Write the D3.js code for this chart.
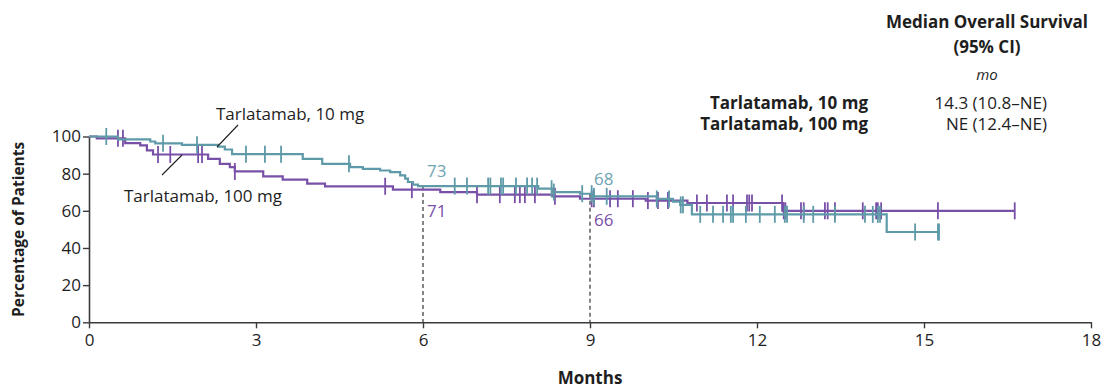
<!DOCTYPE html>
<html>
<head>
<meta charset="utf-8">
<script src="https://cdn.jsdelivr.net/npm/d3@7"></script>
<style>
  body { margin: 0; background: #fff; }
  svg text { font-family: "Open Sans", "Noto Sans", sans-serif; }
</style>
</head>
<body>
<div id="chart"></div>
<script>
// data (months, percent)
const xTicks = [0, 3, 6, 9, 12, 15, 18];
const yTicks = [0, 20, 40, 60, 80, 100];

// Tarlatamab 10 mg
const dose10Times = [0, 0.52, 1.10, 1.19, 1.67, 2.32, 2.44, 2.57, 3.84, 4.19, 4.69, 4.92, 5.23, 5.41, 5.59, 5.68, 5.73, 5.82, 5.91, 8.07, 8.33, 8.82, 9.05, 10.20, 10.49, 10.62, 10.83, 14.33, 15.27];
const dose10Surv  = [100, 98.5, 97.3, 96.3, 95.5, 94.5, 93.0, 90.5, 88.0, 85.3, 83.5, 82.6, 81.7, 80.8, 79.1, 77.3, 75.5, 74.1, 73.3, 71.9, 70.1, 69.2, 67.8, 66.4, 65.0, 63.2, 58.1, 48.6, 48.6];
const dose10Censor = [0.31, 1.33, 1.94, 2.82, 3.16, 3.45, 4.67, 6.57, 6.79, 7.17, 7.21, 7.40, 7.44, 7.67, 7.87, 7.96, 8.05, 8.31, 8.35, 8.86, 9.03, 9.07, 9.30, 10.20, 10.42, 10.63, 10.67, 10.98, 11.21, 11.39, 11.53, 11.57, 11.80, 12.05, 12.32, 12.50, 12.54, 12.84, 13.01, 13.40, 13.94, 14.08, 14.17, 14.21, 14.84, 15.25, 15.27];

// Tarlatamab 100 mg
const dose100Times = [0, 0.14, 0.65, 0.92, 1.04, 1.15, 2.14, 2.35, 2.53, 2.62, 3.13, 3.48, 3.92, 4.24, 5.46, 6.31, 6.97, 8.33, 8.82, 10.0, 10.75, 12.47, 16.63];
const dose100Surv  = [100, 99.0, 96.4, 95.2, 92.5, 90.3, 88.0, 85.3, 83.5, 81.2, 78.5, 76.8, 74.6, 73.2, 71.4, 70.1, 68.7, 67.8, 66.5, 65.5, 64.2, 60.0, 60.0];
const dose100Censor = [0.52, 0.61, 1.24, 1.46, 1.96, 2.03, 2.62, 5.32, 5.80, 6.97, 7.38, 7.65, 7.74, 7.83, 8.01, 8.37, 9.03, 9.07, 9.36, 9.50, 9.77, 10.04, 10.22, 10.40, 10.92, 11.10, 11.46, 11.57, 11.82, 11.86, 11.91, 12.45, 12.48, 12.51, 12.79, 12.84, 13.22, 13.27, 13.40, 13.90, 14.14, 14.17, 14.23, 15.25, 16.63];

// landmark labels
const landmarkMonths = [6, 9];
const dose10Landmark = ["73", "68"];
const dose100Landmark = ["71", "66"];

const tableRows = ["Tarlatamab, 10 mg", "Tarlatamab, 100 mg"];
const tableValues = ["14.3 (10.8\u2013NE)", "NE (12.4\u2013NE)"];

const teal = "#5e9aa8";
const purple = "#7950a8";
const ink = "#1e1e1e";

const width = 1111, height = 388;

const svg = d3.select("#chart")
    .append("svg")
    .attr("width", width)
    .attr("height", height);

const x = d3.scaleLinear().domain([0, 18]).range([89, 1091]);
const y = d3.scaleLinear().domain([0, 100]).range([322.3, 136.5]);

// axes
const xAxis = svg.append("g")
    .attr("transform", `translate(0, ${y(0)})`)
    .call(d3.axisBottom(x).tickValues(xTicks).tickSize(6).tickPadding(6).tickSizeOuter(0));

const yAxis = svg.append("g")
    .attr("transform", `translate(${x(0)}, 0)`)
    .call(d3.axisLeft(y).tickValues(yTicks).tickSize(6).tickPadding(2).tickSizeOuter(0));

[xAxis, yAxis].forEach(a => {
    a.select(".domain").attr("stroke", "#3a3a3a").attr("stroke-width", 1.6);
    a.selectAll(".tick line").attr("stroke", "#3a3a3a").attr("stroke-width", 1.4);
    a.selectAll(".tick text")
        .attr("fill", ink)
        .style("font-size", "17px")
        .style("font-family", "Open Sans, sans-serif");
});

svg.append("text")
    .attr("x", x(9))
    .attr("y", 384)
    .attr("text-anchor", "middle")
    .attr("font-weight", "bold")
    .attr("fill", ink)
    .style("font-size", "17px")
    .text("Months");

svg.append("text")
    .attr("transform", `translate(24, ${y(50)}) rotate(-90)`)
    .attr("text-anchor", "middle")
    .attr("font-weight", "bold")
    .attr("fill", ink)
    .style("font-size", "15.5px")
    .text("Percentage of Patients");

// step lookup for censor marks
const stepValue = (times, surv, t) => {
    let v = surv[0];
    for (let i = 0; i < times.length; i++) {
        if (times[i] <= t) v = surv[i];
    }
    return v;
};

// dashed landmark lines
landmarkMonths.forEach((m, i) => {
    const top = Math.max(stepValue(dose10Times, dose10Surv, m), stepValue(dose100Times, dose100Surv, m));
    svg.append("line")
        .attr("x1", x(m)).attr("x2", x(m))
        .attr("y1", y(top)).attr("y2", y(0))
        .attr("stroke", "#444")
        .attr("stroke-width", 1.3)
        .attr("stroke-dasharray", "4,3");
});

const stepLine = d3.line()
    .x(d => x(d[0]))
    .y(d => y(d[1]))
    .curve(d3.curveStepAfter);

const series = [
    {times: dose100Times, surv: dose100Surv, censor: dose100Censor, color: purple},
    {times: dose10Times, surv: dose10Surv, censor: dose10Censor, color: teal}
];

series.forEach(s => {
    const pts = s.times.map((t, i) => [t, s.surv[i]]);
    svg.append("path")
        .attr("d", stepLine(pts))
        .attr("fill", "none")
        .attr("stroke", s.color)
        .attr("stroke-width", 2.2);

    svg.append("g").selectAll("line")
        .data(s.censor)
        .enter()
        .append("line")
        .attr("x1", d => x(d)).attr("x2", d => x(d))
        .attr("y1", d => y(stepValue(s.times, s.surv, d)) - 8.5)
        .attr("y2", d => y(stepValue(s.times, s.surv, d)) + 8.5)
        .attr("stroke", s.color)
        .attr("stroke-width", 1.8);
});

// landmark numbers
landmarkMonths.forEach((m, i) => {
    svg.append("text")
        .attr("x", x(m) + 4)
        .attr("y", y(stepValue(dose10Times, dose10Surv, m)) - 9)
        .attr("fill", "#6ea3b3")
        .style("font-size", "17px")
        .text(dose10Landmark[i]);
    svg.append("text")
        .attr("x", x(m) + 4)
        .attr("y", y(stepValue(dose100Times, dose100Surv, m)) + 27)
        .attr("fill", purple)
        .style("font-size", "17px")
        .text(dose100Landmark[i]);
});

// curve labels with leader lines
svg.append("text")
    .attr("x", 216).attr("y", 120)
    .attr("fill", ink)
    .style("font-size", "17px")
    .text(tableRows[0]);
svg.append("line")
    .attr("x1", 238).attr("y1", 125)
    .attr("x2", 217).attr("y2", 147)
    .attr("stroke", ink).attr("stroke-width", 1.1);

svg.append("text")
    .attr("x", 124).attr("y", 202)
    .attr("fill", ink)
    .style("font-size", "17px")
    .text(tableRows[1]);
svg.append("line")
    .attr("x1", 162).attr("y1", 175)
    .attr("x2", 182).attr("y2", 155)
    .attr("stroke", ink).attr("stroke-width", 1.1);

// median table
const tbl = svg.append("g");
tbl.append("text")
    .attr("x", 987).attr("y", 28)
    .attr("text-anchor", "middle")
    .attr("font-weight", "bold")
    .attr("fill", ink)
    .style("font-size", "17px")
    .text("Median Overall Survival");
tbl.append("text")
    .attr("x", 987).attr("y", 53)
    .attr("text-anchor", "middle")
    .attr("font-weight", "bold")
    .attr("fill", ink)
    .style("font-size", "17px")
    .text("(95% CI)");
tbl.append("text")
    .attr("x", 987).attr("y", 80)
    .attr("text-anchor", "middle")
    .attr("font-style", "italic")
    .attr("fill", ink)
    .style("font-size", "15px")
    .text("mo");

tableRows.forEach((r, i) => {
    tbl.append("text")
        .attr("x", 868).attr("y", 109 + i * 21)
        .attr("text-anchor", "end")
        .attr("font-weight", "bold")
        .attr("fill", ink)
        .style("font-size", "17px")
        .text(r);
    tbl.append("text")
        .attr("x", 1047).attr("y", 109 + i * 21)
        .attr("text-anchor", "end")
        .attr("fill", ink)
        .style("font-size", "17px")
        .text(tableValues[i]);
});
</script>
</body>
</html>
